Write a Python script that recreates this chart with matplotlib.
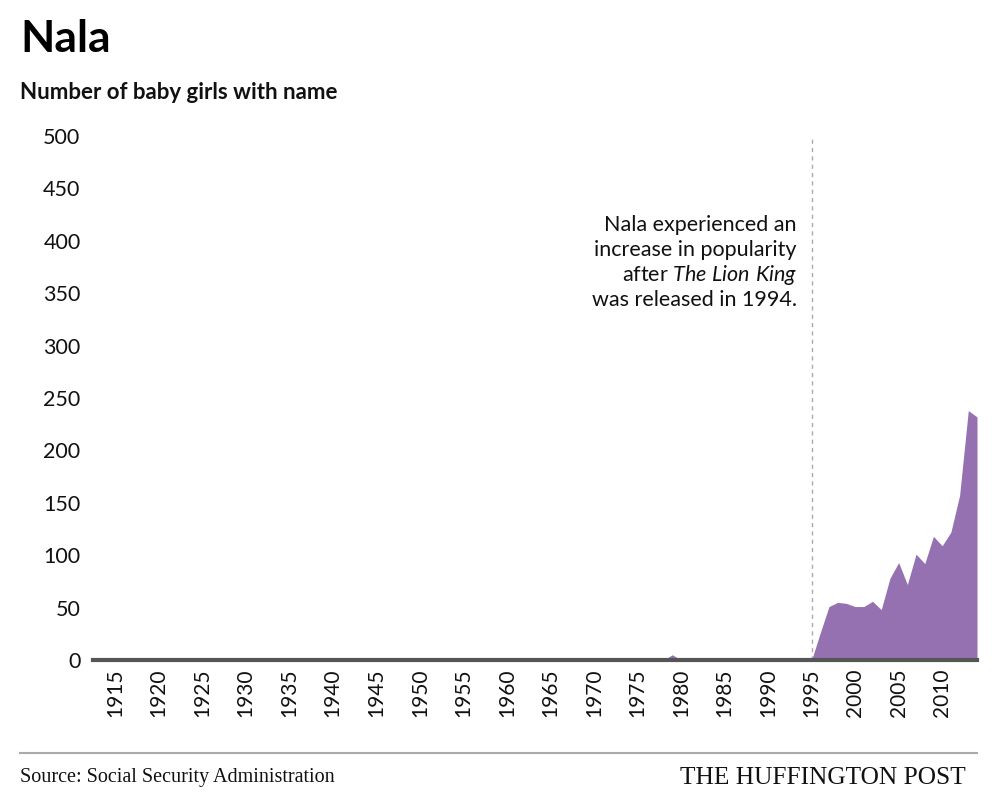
import matplotlib
matplotlib.use("Agg")
import matplotlib.pyplot as plt
from matplotlib.lines import Line2D

# ---- data ----
years = list(range(1915, 2015))
counts = [
    0, 0, 0, 0, 0, 0, 0, 0, 0, 0,        # 1915-1924
    0, 0, 0, 0, 0, 0, 0, 0, 0, 0,        # 1925-1934
    0, 0, 0, 0, 0, 0, 0, 0, 0, 0,        # 1935-1944
    0, 0, 0, 0, 0, 0, 0, 0, 0, 0,        # 1945-1954
    0, 0, 0, 0, 0, 0, 0, 0, 0, 0,        # 1955-1964
    0, 0, 0, 0, 0, 0, 0, 0, 0, 0,        # 1965-1974
    0, 0, 0, 0, 5, 0, 0, 0, 0, 0,        # 1975-1984
    0, 0, 0, 0, 0, 0, 0, 0, 0, 0,        # 1985-1994
    0, 26, 51, 55, 54, 51, 51, 56, 48, 78,        # 1995-2004
    93, 72, 101, 92, 118, 109, 122, 157, 238, 232,  # 2005-2014
]
xtick_years = list(range(1915, 2011, 5))
ytick_values = list(range(0, 501, 50))
marker_year = 1995

title = "Nala"
subtitle = "Number of baby girls with name"
source = "Source: Social Security Administration"
brand = "THE HUFFINGTON POST"

plt.rcParams['font.family'] = ['Lato', 'DejaVu Sans']
plt.rcParams['mathtext.fontset'] = 'custom'
plt.rcParams['mathtext.rm'] = 'Lato'
plt.rcParams['mathtext.it'] = 'Lato:italic'

W, H = 998, 811
fig = plt.figure(figsize=(W / 100, H / 100), dpi=100)
ax = fig.add_axes([93 / W, 1 - 660 / H, (977 - 93) / W, (660 - 136) / H])

ax.fill_between(years, counts, 0, color='#9671B1', lw=0, zorder=2)
ax.set_xlim(1912.47, 2014)
ax.set_ylim(0, 500)

for s in ['top', 'right', 'left']:
    ax.spines[s].set_visible(False)
ax.spines['bottom'].set_color('#555555')
ax.spines['bottom'].set_linewidth(3)
ax.spines['bottom'].set_zorder(3)

ax.axvline(marker_year, color='#aaaaaa', lw=1, ls=(0, (3, 3)), zorder=1)

ax.set_xticks(xtick_years)
ax.set_xticklabels([str(y) for y in xtick_years])
ax.set_yticks(ytick_values)
ax.set_yticklabels([str(v) for v in ytick_values])
ax.tick_params(axis='x', length=0, pad=6, labelsize=15, rotation=90, colors='#111111')
ax.tick_params(axis='y', length=0, pad=9, labelsize=15.5, colors='#111111')

# annotation
ann_x = 797 / W
ann_lines = [
    "Nala experienced an",
    "increase in popularity",
    r"after $\mathit{The\ Lion\ King}$",
    "was released in 1994.",
]
for i, line in enumerate(ann_lines):
    fig.text(ann_x, 1 - (231 + i * 25) / H, line, ha='right', va='baseline',
             fontsize=15.5, color='#111111')

# titles
fig.text(20 / W, 1 - 52 / H, title, fontsize=32, weight='bold', va='baseline', color='#000000')
fig.text(20 / W, 1 - 99 / H, subtitle, fontsize=16, weight='bold', va='baseline', color='#111111')

# footer
fig.add_artist(Line2D([20 / W, 977 / W], [1 - 753 / H, 1 - 753 / H], color='#aaaaaa', lw=1.5))
fig.text(20 / W, 1 - 782 / H, source, fontsize=14.5, family='Liberation Serif', va='baseline', color='#111111')
fig.text(966 / W, 1 - 784 / H, brand, fontsize=18.3, family='Liberation Serif', va='baseline', ha='right', color='#111111')

fig.savefig('out.png', dpi=100)
